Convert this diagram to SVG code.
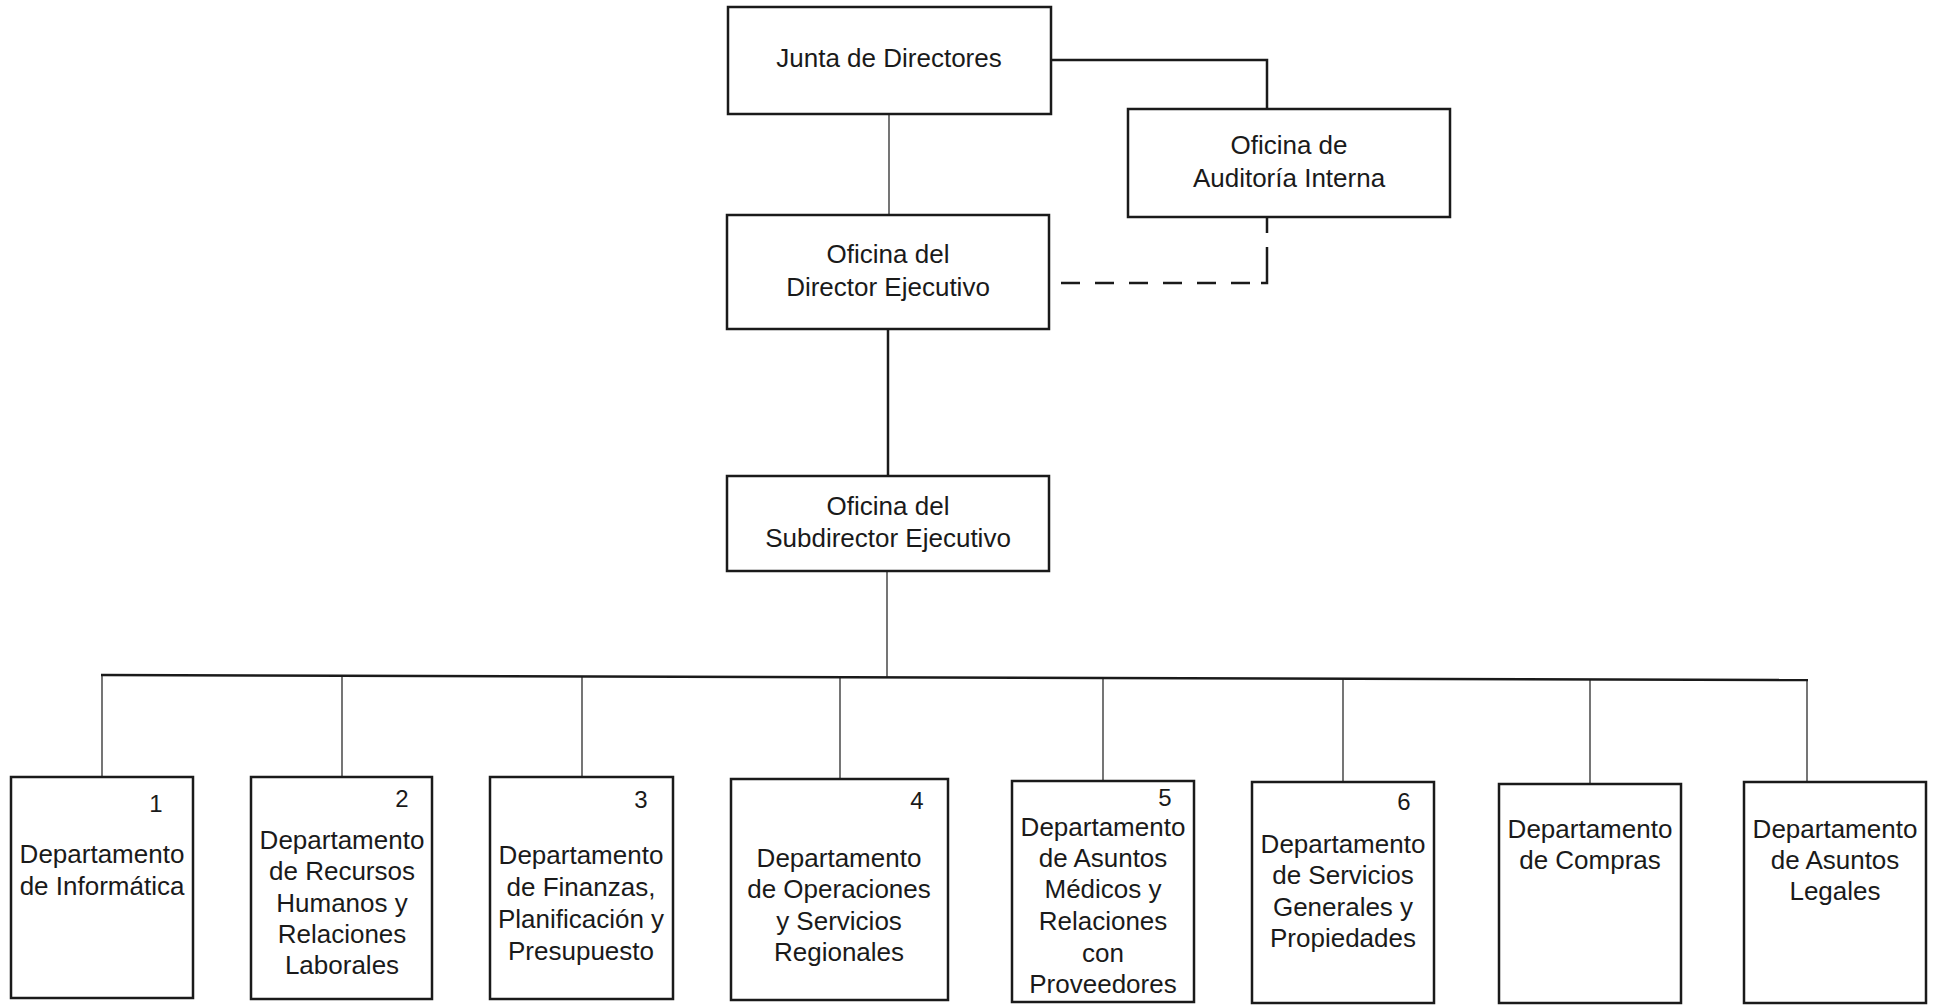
<svg xmlns="http://www.w3.org/2000/svg" width="1937" height="1005" viewBox="0 0 1937 1005">
<style>
.box{fill:#fff;stroke:#1a1a1a;stroke-width:2.5}
.t{font-family:"Liberation Sans",Arial,sans-serif;font-size:26px;fill:#1a1a1a;text-anchor:middle}
.n{font-family:"Liberation Sans",Arial,sans-serif;font-size:24px;fill:#1a1a1a;text-anchor:middle}
.thin{stroke:#1a1a1a;stroke-width:1.2;fill:none}
.thick{stroke:#1a1a1a;stroke-width:2.5;fill:none}
.dash{stroke:#1a1a1a;stroke-width:2.5;fill:none;stroke-dasharray:19 15 19 15 19 15 19 15 19 15 19 11 42 14 16 0}
</style>
<rect width="1937" height="1005" fill="#fff"/>
<g id="connectors">
<line class="thin" x1="889" y1="114" x2="889" y2="215"/>
<polyline class="thick" points="1051,60 1267,60 1267,109"/>
<polyline class="dash" points="1061,283 1267,283 1267,217"/>
<line class="thick" x1="888" y1="329" x2="888" y2="476"/>
<line class="thin" x1="887" y1="571" x2="887" y2="677"/>
<line class="thick" x1="101" y1="675" x2="1808" y2="680"/>
<line class="thin" x1="102" y1="675" x2="102" y2="777"/>
<line class="thin" x1="342" y1="676" x2="342" y2="777"/>
<line class="thin" x1="582" y1="677" x2="582" y2="777"/>
<line class="thin" x1="840" y1="677" x2="840" y2="779"/>
<line class="thin" x1="1103" y1="678" x2="1103" y2="781"/>
<line class="thin" x1="1343" y1="679" x2="1343" y2="782"/>
<line class="thin" x1="1590" y1="679" x2="1590" y2="784"/>
<line class="thin" x1="1807" y1="680" x2="1807" y2="782"/>
</g>
<g id="junta">
<rect class="box" x="728" y="7" width="323" height="107"/>
<text class="t" x="889" y="67">Junta de Directores</text>
</g>
<g id="auditoria">
<rect class="box" x="1128" y="109" width="322" height="108"/>
<text class="t" x="1289" y="154">Oficina de</text>
<text class="t" x="1289" y="187">Auditoría Interna</text>
</g>
<g id="director">
<rect class="box" x="727" y="215" width="322" height="114"/>
<text class="t" x="888" y="263">Oficina del</text>
<text class="t" x="888" y="296">Director Ejecutivo</text>
</g>
<g id="subdirector">
<rect class="box" x="727" y="476" width="322" height="95"/>
<text class="t" x="888" y="515">Oficina del</text>
<text class="t" x="888" y="547">Subdirector Ejecutivo</text>
</g>
<g id="d1">
<rect class="box" x="11" y="777" width="182" height="221"/>
<text class="n" x="156" y="812">1</text>
<text class="t" x="102" y="863">Departamento</text>
<text class="t" x="102" y="895">de Informática</text>
</g>
<g id="d2">
<rect class="box" x="251" y="777" width="181" height="222"/>
<text class="n" x="402" y="807">2</text>
<text class="t" x="342" y="849">Departamento</text>
<text class="t" x="342" y="880">de Recursos</text>
<text class="t" x="342" y="912">Humanos y</text>
<text class="t" x="342" y="943">Relaciones</text>
<text class="t" x="342" y="974">Laborales</text>
</g>
<g id="d3">
<rect class="box" x="490" y="777" width="183" height="222"/>
<text class="n" x="641" y="808">3</text>
<text class="t" x="581" y="864">Departamento</text>
<text class="t" x="581" y="896">de Finanzas,</text>
<text class="t" x="581" y="928">Planificación y</text>
<text class="t" x="581" y="960">Presupuesto</text>
</g>
<g id="d4">
<rect class="box" x="731" y="779" width="217" height="221"/>
<text class="n" x="917" y="809">4</text>
<text class="t" x="839" y="867">Departamento</text>
<text class="t" x="839" y="898">de Operaciones</text>
<text class="t" x="839" y="930">y Servicios</text>
<text class="t" x="839" y="961">Regionales</text>
</g>
<g id="d5">
<rect class="box" x="1012" y="781" width="182" height="221"/>
<text class="n" x="1165" y="806">5</text>
<text class="t" x="1103" y="836">Departamento</text>
<text class="t" x="1103" y="867">de Asuntos</text>
<text class="t" x="1103" y="898">Médicos y</text>
<text class="t" x="1103" y="930">Relaciones</text>
<text class="t" x="1103" y="962">con</text>
<text class="t" x="1103" y="993">Proveedores</text>
</g>
<g id="d6">
<rect class="box" x="1252" y="782" width="182" height="221"/>
<text class="n" x="1404" y="810">6</text>
<text class="t" x="1343" y="853">Departamento</text>
<text class="t" x="1343" y="884">de Servicios</text>
<text class="t" x="1343" y="916">Generales y</text>
<text class="t" x="1343" y="947">Propiedades</text>
</g>
<g id="d7">
<rect class="box" x="1499" y="784" width="182" height="219"/>
<text class="t" x="1590" y="838">Departamento</text>
<text class="t" x="1590" y="869">de Compras</text>
</g>
<g id="d8">
<rect class="box" x="1744" y="782" width="182" height="221"/>
<text class="t" x="1835" y="838">Departamento</text>
<text class="t" x="1835" y="869">de Asuntos</text>
<text class="t" x="1835" y="900">Legales</text>
</g>
</svg>
